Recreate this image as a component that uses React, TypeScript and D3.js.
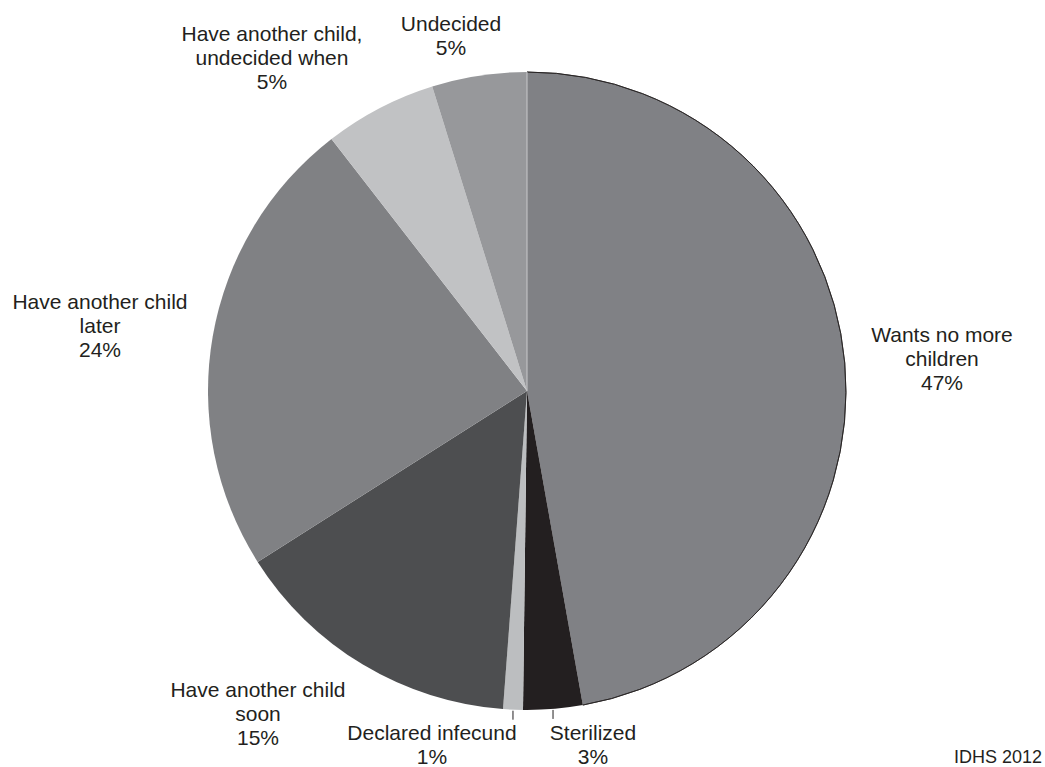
import React from "react";
import * as d3 from "d3";

const categories = [
  "Wants no more children",
  "Sterilized",
  "Declared infecund",
  "Have another child soon",
  "Have another child later",
  "Have another child, undecided when",
  "Undecided",
];
const values = [47.2, 3.0, 1.0, 14.8, 23.5, 5.7, 4.8];
const percentLabels = ["47%", "3%", "1%", "15%", "24%", "5%", "5%"];
const labelLines = [
  ["Wants no more", "children"],
  ["Sterilized"],
  ["Declared infecund"],
  ["Have another child", "soon"],
  ["Have another child", "later"],
  ["Have another child,", "undecided when"],
  ["Undecided"],
];
const colors = ["#808185", "#231f20", "#bcbec0", "#4d4e50", "#808184", "#c1c2c4", "#97989b"];

const W = 1045;
const H = 767;
const cx = 527;
const cy = 391;
const R = 319;
const fontSize = 21;
const lineH = 24;

// label anchor (center x, first baseline y)
const labelPos: [number, number][] = [
  [942, 342],
  [593, 740],
  [432, 740],
  [258, 697],
  [100, 309],
  [272, 41],
  [451, 31],
];

export default function App() {
  const data = values.map((v, i) => ({ v, i }));
  const pie = d3
    .pie<{ v: number; i: number }>()
    .value((d) => d.v)
    .sort(null);
  const arcs = pie(data);
  const arc = d3.arc<d3.PieArcDatum<{ v: number; i: number }>>().innerRadius(0).outerRadius(R);

  const leaderIdx = [1, 2];

  return (
    <svg width={W} height={H} style={{ position: "absolute", left: 0, top: 0 }} fontFamily="'Liberation Sans', Arial, sans-serif">
      <rect width={W} height={H} fill="#ffffff" />
      <g transform={`translate(${cx},${cy})`}>
        {arcs.map((a) => (
          <path key={a.index} d={arc(a) || ""} fill={colors[a.index]} stroke="none" />
        ))}
        <path
          d={
            d3.arc()({
              innerRadius: R,
              outerRadius: R,
              startAngle: arcs[0].startAngle,
              endAngle: arcs[0].endAngle,
            }) || ""
          }
          fill="none"
          stroke="#231f20"
          strokeWidth={0.8}
        />
        <line x1={0} y1={0} x2={0} y2={-R} stroke="#c8c9cb" strokeWidth={1} />
        {leaderIdx.map((i) => {
          const a = arcs[i];
          const mid = (a.startAngle + a.endAngle) / 2;
          const x = Math.sin(mid) * R;
          const y = -Math.cos(mid) * R;
          return (
            <line key={i} x1={x} y1={y + 1} x2={x} y2={y + 10} stroke="#231f20" strokeWidth={1} />
          );
        })}
      </g>
      {categories.map((c, i) => {
        const [x, y] = labelPos[i];
        const lines = [...labelLines[i], percentLabels[i]];
        return (
          <text key={c} x={x} y={y} textAnchor="middle" fontSize={fontSize} fill="#231f20">
            {lines.map((l, j) => (
              <tspan key={j} x={x} y={y + j * lineH}>
                {l}
              </tspan>
            ))}
          </text>
        );
      })}
      <text x={1042} y={763} textAnchor="end" fontSize={18} fill="#231f20">
        IDHS 2012
      </text>
    </svg>
  );
}
